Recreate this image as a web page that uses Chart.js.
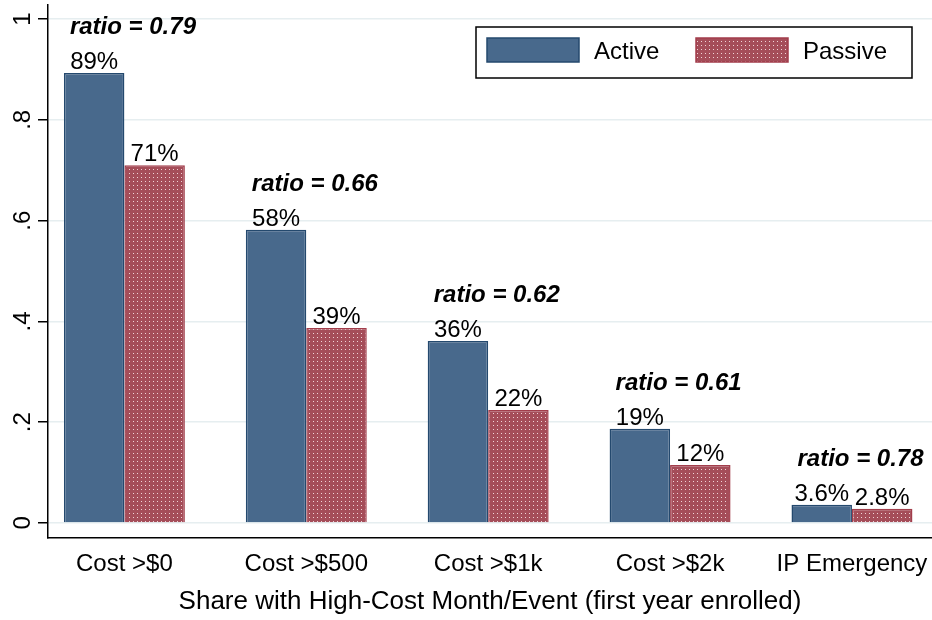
<!DOCTYPE html>
<html>
<head>
<meta charset="utf-8">
<script src="https://cdn.jsdelivr.net/npm/chart.js@4.4.1/dist/chart.umd.min.js"></script>
<style>
  html, body { margin: 0; padding: 0; background: #fff; }
  #wrap { width: 932px; height: 620px; position: relative; }
</style>
</head>
<body>
<div id="wrap"><canvas id="chart"></canvas></div>
<script>
// ─── data ───
const categories = ['Cost >$0', 'Cost >$500', 'Cost >$1k', 'Cost >$2k', 'IP Emergency'];
const activeValues = [0.893, 0.582, 0.361, 0.187, 0.036];
const passiveValues = [0.710, 0.387, 0.224, 0.115, 0.028];
const activeLabels = ['89%', '58%', '36%', '19%', '3.6%'];
const passiveLabels = ['71%', '39%', '22%', '12%', '2.8%'];
const ratioLabels = ['ratio = 0.79', 'ratio = 0.66', 'ratio = 0.62', 'ratio = 0.61', 'ratio = 0.78'];
const yTicks = [0, 0.2, 0.4, 0.6, 0.8, 1];
const yTickLabels = ['0', '.2', '.4', '.6', '.8', '1'];
const seriesNames = ['Active', 'Passive'];

const FONT = '"Liberation Sans", Arial, sans-serif';
const activeColor = '#48698c';
const activeBorder = '#24496e';
const passiveBorder = '#a23d4b';

// dotted fill for the passive bars
function dotPattern() {
    const tile = document.createElement('canvas');
    tile.width = 4; tile.height = 4;
    const t = tile.getContext('2d');
    t.fillStyle = '#a54d59';
    t.fillRect(0, 0, 4, 4);
    t.fillStyle = '#f0d4d7';
    t.fillRect(1, 1, 1, 1);
    return t.createPattern(tile, 'repeat');
}
const passiveFill = dotPattern();

// ─── labels, rotated y ticks, legend ───
const annotate = {
    id: 'annotate',
    afterDatasetsDraw(chart) {
        const ctx = chart.ctx;
        const area = chart.chartArea;
        const yScale = chart.scales.y;
        const a = chart.getDatasetMeta(0).data;
        const p = chart.getDatasetMeta(1).data;
        ctx.save();
        ctx.fillStyle = '#000';
        ctx.textBaseline = 'alphabetic';

        // value labels
        ctx.font = '24px ' + FONT;
        ctx.textAlign = 'center';
        a.forEach((bar, i) => ctx.fillText(activeLabels[i], bar.x, bar.y - 4));
        p.forEach((bar, i) => ctx.fillText(passiveLabels[i], bar.x, bar.y - 4));

        // ratio labels
        ctx.font = 'italic bold 24px ' + FONT;
        ctx.textAlign = 'left';
        a.forEach((bar, i) => {
            const top = Math.min(bar.y, p[i].y);
            ctx.fillText(ratioLabels[i], bar.x - bar.width / 2 + 6, top - 39);
        });

        // y tick labels, rotated
        ctx.font = '24px ' + FONT;
        ctx.textAlign = 'center';
        yTicks.forEach((v, i) => {
            const py = yScale.getPixelForValue(v);
            ctx.save();
            ctx.translate(area.left - 18, py);
            ctx.rotate(-Math.PI / 2);
            ctx.fillText(yTickLabels[i], 0, 0);
            ctx.restore();
        });

        // legend box
        const lx = area.right - 456, ly = area.top + 22, lw = 436, lh = 51;
        ctx.fillStyle = '#fff';
        ctx.fillRect(lx, ly, lw, lh);
        ctx.strokeStyle = '#000';
        ctx.lineWidth = 1.5;
        ctx.strokeRect(lx, ly, lw, lh);
        const swatches = [
            { x: lx + 11, fill: activeColor, border: activeBorder },
            { x: lx + 220, fill: passiveFill, border: passiveBorder }
        ];
        ctx.font = '24px ' + FONT;
        ctx.textAlign = 'left';
        ctx.textBaseline = 'middle';
        swatches.forEach((s, i) => {
            ctx.fillStyle = s.fill;
            ctx.fillRect(s.x, ly + 11, 92, 24);
            ctx.strokeStyle = s.border;
            ctx.lineWidth = 1.5;
            ctx.strokeRect(s.x, ly + 11, 92, 24);
            ctx.fillStyle = '#000';
            ctx.fillText(seriesNames[i], s.x + 107, ly + 25);
        });
        ctx.restore();
    }
};

new Chart(document.getElementById('chart'), {
    type: 'bar',
    data: {
        datasets: [
            {
                label: seriesNames[0],
                data: activeValues.map((v, i) => ({ x: i, y: v })),
                backgroundColor: activeColor,
                borderColor: activeBorder,
                borderWidth: 1.5
            },
            {
                label: seriesNames[1],
                data: passiveValues.map((v, i) => ({ x: i, y: v })),
                backgroundColor: passiveFill,
                borderColor: passiveBorder,
                borderWidth: 1.5
            }
        ]
    },
    options: {
        responsive: true,
        maintainAspectRatio: false,
        animation: false,
        layout: { padding: { top: 5, right: 0, left: 0, bottom: 0 } },
        categoryPercentage: 0.665,
        barPercentage: 1,
        plugins: {
            legend: { display: false },
            tooltip: { enabled: false }
        },
        scales: {
            x: {
                type: 'linear',
                min: -0.42,
                max: 4.44,
                offset: false,
                afterBuildTicks: s => { s.ticks = categories.map((c, i) => ({ value: i })); },
                afterFit: s => { s.height = 82; s.paddingLeft = 0; s.paddingRight = 0; },
                grid: { display: false, drawTicks: false },
                border: { display: true, color: '#000', width: 1.5 },
                ticks: {
                    color: '#000',
                    padding: 12,
                    maxRotation: 0,
                    autoSkip: false,
                    font: { family: FONT, size: 24 },
                    callback: v => categories[v]
                },
                title: {
                    display: true,
                    text: 'Share with High-Cost Month/Event (first year enrolled)',
                    color: '#000',
                    font: { family: FONT, size: 26 },
                    padding: { top: 0, bottom: 3 }
                }
            },
            y: {
                min: -0.03,
                max: 1.028,
                afterBuildTicks: s => { s.ticks = yTicks.map(v => ({ value: v })); },
                afterFit: s => { s.width = 48; s.paddingTop = 0; s.paddingBottom = 0; },
                grid: {
                    color: '#e6eef0',
                    lineWidth: 1.5,
                    tickColor: '#000',
                    tickLength: 10,
                    drawTicks: true
                },
                border: { display: true, color: '#000', width: 1.5 },
                ticks: { display: false }
            }
        }
    },
    plugins: [annotate]
});
</script>
</body>
</html>
